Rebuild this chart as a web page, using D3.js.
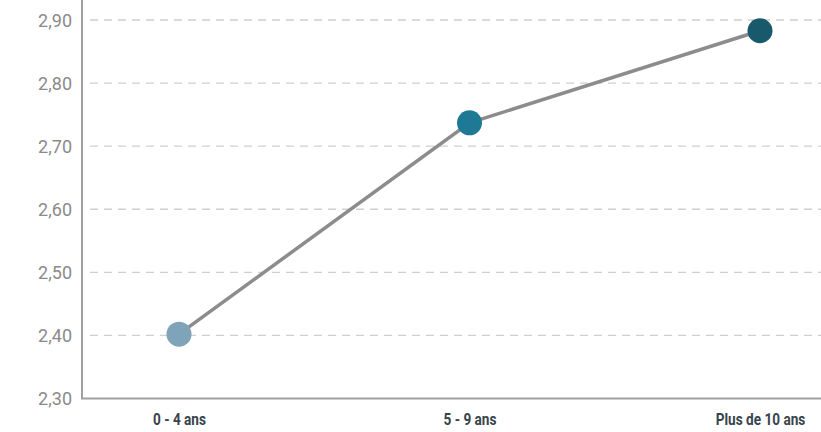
<!DOCTYPE html>
<html>
<head>
<meta charset="utf-8">
<script src="https://cdn.jsdelivr.net/npm/d3@7"></script>
<style>
  html, body { margin: 0; padding: 0; background: #fff; }
  svg { display: block; }
</style>
</head>
<body>
<svg id="chart" width="821" height="432"></svg>
<script>
// Ancienneté groups and their mean scores
const categories = ["0 - 4 ans", "5 - 9 ans", "Plus de 10 ans"];
const values = [2.402, 2.737, 2.883];
const pointColors = ["#7fa3b8", "#1e7a94", "#185a6b"];
const yTicks = [2.30, 2.40, 2.50, 2.60, 2.70, 2.80, 2.90];

const W = 821, H = 432;
const margin = { left: 82, right: 0, top: 20, bottom: 33.5 };
const svg = d3.select("#chart");

const y = d3.scaleLinear()
  .domain([2.30, 2.90])
  .range([H - margin.bottom, margin.top]);

const x = d3.scalePoint()
  .domain(categories)
  .range([179, 760]);

const fmt = v => d3.format(".2f")(v).replace(".", ",");

// dashed horizontal gridlines
svg.append("g")
  .selectAll("line")
  .data(yTicks.slice(1))
  .join("line")
  .attr("x1", margin.left + 8)
  .attr("x2", W)
  .attr("y1", d => y(d))
  .attr("y2", d => y(d))
  .attr("stroke", "#cfcfcf")
  .attr("stroke-width", 1.3)
  .attr("stroke-dasharray", "8,6");

// y axis
const yAxis = svg.append("g")
  .attr("transform", `translate(${margin.left},0)`)
  .call(d3.axisLeft(y).tickValues(yTicks).tickFormat(fmt).tickSize(0).tickPadding(10));
yAxis.select(".domain").remove();
yAxis.selectAll("text")
  .attr("fill", "#8a8a8a")
  .attr("dy", "0.36em")
  .style("font-family", "Roboto, 'DejaVu Sans', sans-serif")
  .style("font-size", "18px");

svg.append("line")
  .attr("x1", margin.left).attr("x2", margin.left)
  .attr("y1", 0).attr("y2", y(2.30))
  .attr("stroke", "#a0a0a0").attr("stroke-width", 2);

// x axis, labels in a narrow bold face
const xAxis = svg.append("g")
  .attr("transform", `translate(0,${y(2.30)})`)
  .call(d3.axisBottom(x).tickSize(0).tickPadding(0));
xAxis.select(".domain").remove();
xAxis.selectAll("text")
  .attr("y", 27)
  .attr("dy", 0)
  .attr("transform", "scale(0.8,1)")
  .attr("fill", "#37444c")
  .style("font-family", "Roboto, 'DejaVu Sans', sans-serif")
  .style("font-weight", "bold")
  .style("font-size", "17px");

svg.append("line")
  .attr("x1", margin.left - 1).attr("x2", W)
  .attr("y1", y(2.30)).attr("y2", y(2.30))
  .attr("stroke", "#a0a0a0").attr("stroke-width", 2);

// connecting line
const line = d3.line()
  .x((d, i) => x(categories[i]))
  .y(d => y(d));
svg.append("path")
  .datum(values)
  .attr("d", line)
  .attr("fill", "none")
  .attr("stroke", "#8c8c8c")
  .attr("stroke-width", 3.5);

// markers
svg.append("g")
  .selectAll("circle")
  .data(values)
  .join("circle")
  .attr("cx", (d, i) => x(categories[i]))
  .attr("cy", d => y(d))
  .attr("r", 12.5)
  .attr("fill", (d, i) => pointColors[i]);
</script>
</body>
</html>
